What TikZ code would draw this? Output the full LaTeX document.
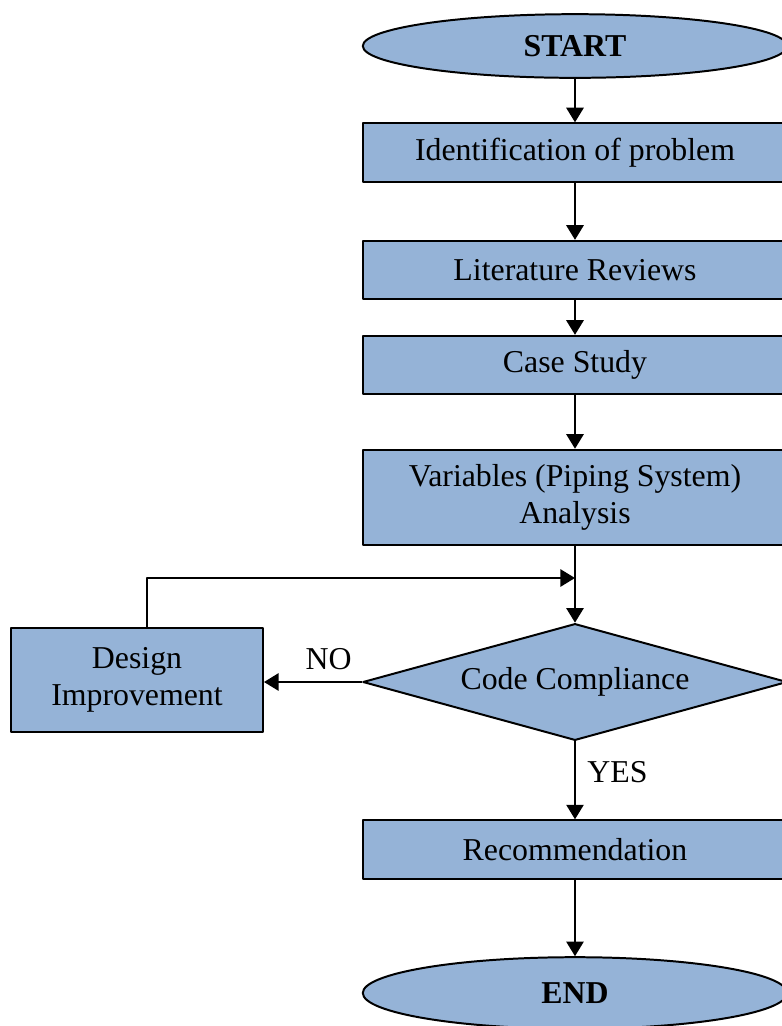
\documentclass[tikz,border=0pt]{standalone}
\usepackage{fontspec}
\setmainfont{Liberation Serif}
\usetikzlibrary{shapes.geometric,arrows.meta}
\definecolor{boxblue}{RGB}{149,179,215}
\begin{document}
\begin{tikzpicture}[x=0.377pt, y=-0.377pt, font=\fontsize{12}{14}\selectfont, line width=0.75pt, line join=round, >={Triangle[length=5.5pt,width=6.5pt]},
	terminal/.style={ellipse, draw, fill=boxblue, minimum width=160pt, minimum height=24pt, inner sep=0pt, font=\fontsize{12}{14}\selectfont\bfseries},
	process/.style={rectangle, draw, fill=boxblue, minimum width=160pt, minimum height=22pt, inner sep=0pt, align=center},
	decision/.style={diamond, aspect=3.62, draw, fill=boxblue, minimum width=160pt, minimum height=44pt, inner sep=0pt}]
			\useasboundingbox (0,0) rectangle (781,1026);
			\node[terminal] (start) at (575,46){START};
			\node[process] (ident) at (575,152.5){Identification of problem};
			\node[process] (lit) at (575,270){Literature Reviews};
			\node[process] (case) at (575,365){Case Study};
			\node[process, minimum height=36pt] (var) at (575,497.5){Variables (Piping System)\\Analysis};
			\node[decision] (comp) at (575,682){Code Compliance};
			\node[process, minimum width=95pt, minimum height=39pt] (design) at (137,680){Design\\Improvement};
			\node[process] (rec) at (575,849.5){Recommendation};
			\node[terminal, minimum height=27pt] (end) at (575,993){END};
			\coordinate (loop) at (147,578);
			\coordinate (join) at (575,578);
			\draw[->] (start)--(ident);
			\draw[->] (ident)--(lit);
			\draw[->] (lit)--(case);
			\draw[->] (case)--(var);
			\draw[->] (var)--(comp);
			\draw[->] (comp.west)--(comp.west -| design.east) node[pos=0.34, above=1pt]{NO};
			\draw[->] (loop |- design.north)--(loop)--(join);
			\draw[->] (comp.south)--(rec.north) node[pos=0.4, right=1pt]{YES};
			\draw[->] (rec)--(end);
	\end{tikzpicture}
\end{document}
